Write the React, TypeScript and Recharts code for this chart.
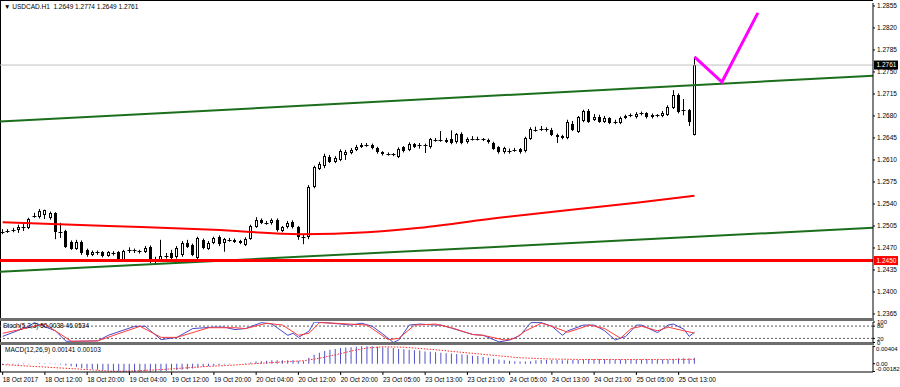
import React from 'react';
import { ComposedChart, Bar, Line, XAxis, YAxis, ReferenceLine } from 'recharts';

// H1 candles, 18 Oct 04:00 .. 25 Oct 16:00
const OPEN = [
  1.2495, 1.2496, 1.2497, 1.2499, 1.2503, 1.2502, 1.2519, 1.2519, 1.2522, 1.2518,
  1.2525, 1.2496, 1.2497, 1.248, 1.2469, 1.248, 1.2467, 1.2459, 1.2463, 1.2464,
  1.2458, 1.2462, 1.2463, 1.245, 1.2466, 1.2466, 1.2465, 1.2464, 1.2472, 1.2448,
  1.2451, 1.2456, 1.2462, 1.2456, 1.2459, 1.2478, 1.2475, 1.2454, 1.2483, 1.2469,
  1.2478, 1.2488, 1.2478, 1.2482, 1.2483, 1.2481, 1.2475, 1.2485, 1.2504, 1.2515,
  1.251, 1.2509, 1.2514, 1.2497, 1.2503, 1.2511, 1.2503, 1.2487, 1.2488, 1.2567,
  1.2596, 1.26, 1.2615, 1.2607, 1.261, 1.2618, 1.2621, 1.2626, 1.2631, 1.2634,
  1.2634, 1.2629, 1.2622, 1.2619, 1.2619, 1.2615, 1.263, 1.2626, 1.2635, 1.2633,
  1.2634, 1.263, 1.2642, 1.2641, 1.2639, 1.2643, 1.2638, 1.2651, 1.2638, 1.2643,
  1.2644, 1.2643, 1.2642, 1.2637, 1.263, 1.2622, 1.2624, 1.2625, 1.2627, 1.2625,
  1.2644, 1.2658, 1.2658, 1.2659, 1.2658, 1.265, 1.2648, 1.2645, 1.2668, 1.2655,
  1.2672, 1.2688, 1.2674, 1.2679, 1.2671, 1.2676, 1.267, 1.2669, 1.2677, 1.268,
  1.2678, 1.2683, 1.2684, 1.2678, 1.2681, 1.268, 1.2682, 1.2693, 1.2714, 1.2689,
  1.2689, 1.2649,
];
const HIGH = [
  1.25, 1.25, 1.2502, 1.2507, 1.2508, 1.2518, 1.2526, 1.2532, 1.2531, 1.2528,
  1.2527, 1.251, 1.2499, 1.2482, 1.2483, 1.2482, 1.2469, 1.2466, 1.2466, 1.2465,
  1.2465, 1.2465, 1.2465, 1.2467, 1.2471, 1.2469, 1.2467, 1.2473, 1.2474, 1.2456,
  1.2483, 1.2462, 1.2467, 1.2473, 1.2481, 1.2483, 1.2477, 1.2488, 1.2485, 1.2481,
  1.2488, 1.249, 1.2486, 1.2486, 1.2485, 1.2483, 1.2487, 1.2507, 1.2519, 1.2517,
  1.2513, 1.2517, 1.2517, 1.2505, 1.2513, 1.2514, 1.2505, 1.2491, 1.257, 1.2601,
  1.2607, 1.262, 1.2618, 1.2616, 1.2627, 1.2626, 1.2629, 1.2634, 1.2637, 1.2637,
  1.2636, 1.2631, 1.2624, 1.2622, 1.2621, 1.263, 1.2632, 1.2638, 1.2637, 1.2637,
  1.2636, 1.2645, 1.2645, 1.2656, 1.2645, 1.2657, 1.2653, 1.2654, 1.2646, 1.2648,
  1.2647, 1.2645, 1.2644, 1.2639, 1.2632, 1.2631, 1.2628, 1.2629, 1.2629, 1.2647,
  1.2662, 1.2663, 1.2664, 1.2662, 1.2661, 1.2652, 1.265, 1.2674, 1.2672, 1.268,
  1.269, 1.2691, 1.2683, 1.2682, 1.268, 1.2678, 1.2674, 1.2679, 1.2682, 1.2684,
  1.2686, 1.2687, 1.2686, 1.2684, 1.2683, 1.2688, 1.2697, 1.2721, 1.2716, 1.2707,
  1.2691, 1.2774,
];
const LOW = [
  1.2492, 1.2494, 1.2495, 1.2494, 1.2497, 1.25, 1.2518, 1.2517, 1.2516, 1.2515,
  1.2484, 1.2486, 1.247, 1.2467, 1.2467, 1.2459, 1.2456, 1.2457, 1.2459, 1.2455,
  1.2456, 1.2458, 1.2448, 1.2448, 1.2462, 1.2462, 1.2461, 1.2462, 1.2446, 1.2446,
  1.2449, 1.2453, 1.2451, 1.2453, 1.2456, 1.247, 1.2457, 1.2452, 1.2468, 1.2467,
  1.2476, 1.2473, 1.2464, 1.248, 1.2478, 1.2476, 1.2473, 1.2483, 1.2502, 1.2508,
  1.2507, 1.2507, 1.2496, 1.2495, 1.2501, 1.2501, 1.2483, 1.2476, 1.2484, 1.2565,
  1.2594, 1.2597, 1.2605, 1.2605, 1.2608, 1.261, 1.2619, 1.2624, 1.2629, 1.2631,
  1.2627, 1.262, 1.2617, 1.2617, 1.2616, 1.2613, 1.2622, 1.2624, 1.2629, 1.2628,
  1.2621, 1.2628, 1.2639, 1.2639, 1.2637, 1.2635, 1.2636, 1.2635, 1.2636, 1.2641,
  1.2641, 1.264, 1.2636, 1.2626, 1.262, 1.262, 1.262, 1.2623, 1.262, 1.2622,
  1.2642, 1.2655, 1.2656, 1.2655, 1.2648, 1.2637, 1.2643, 1.2643, 1.2656, 1.2653,
  1.267, 1.2669, 1.2672, 1.2669, 1.2669, 1.2667, 1.2667, 1.2667, 1.2675, 1.2678,
  1.2676, 1.2681, 1.2676, 1.2676, 1.2678, 1.2678, 1.268, 1.2691, 1.2684, 1.2681,
  1.2664, 1.2649,
];
const CLOSE = [
  1.2496, 1.2497, 1.2499, 1.2503, 1.2504, 1.2516, 1.2521, 1.2529, 1.253, 1.2525,
  1.2495, 1.2494, 1.2472, 1.2469, 1.248, 1.2462, 1.2459, 1.2464, 1.2462, 1.2457,
  1.2463, 1.2461, 1.2449, 1.2465, 1.2467, 1.2465, 1.2463, 1.247, 1.2448, 1.2453,
  1.2457, 1.2457, 1.2454, 1.247, 1.2478, 1.2472, 1.2459, 1.2486, 1.247, 1.2478,
  1.2486, 1.2476, 1.2484, 1.2483, 1.248, 1.2478, 1.2485, 1.2505, 1.2515, 1.251,
  1.2509, 1.2514, 1.2498, 1.2503, 1.251, 1.2503, 1.2487, 1.2488, 1.2567, 1.2599,
  1.2603, 1.2616, 1.2607, 1.2613, 1.2624, 1.2623, 1.2626, 1.2631, 1.2634, 1.2633,
  1.2629, 1.2622, 1.2619, 1.262, 1.2618, 1.2628, 1.2624, 1.2635, 1.2631, 1.2634,
  1.2633, 1.2643, 1.2641, 1.2642, 1.2642, 1.2637, 1.2651, 1.2637, 1.2643, 1.2644,
  1.2643, 1.2642, 1.2638, 1.2628, 1.2622, 1.2629, 1.2625, 1.2626, 1.2622, 1.2645,
  1.2659, 1.2657, 1.2659, 1.2658, 1.265, 1.2646, 1.2645, 1.267, 1.2658, 1.2678,
  1.2688, 1.2671, 1.2679, 1.2671, 1.2677, 1.2669, 1.2671, 1.2677, 1.268, 1.2681,
  1.2683, 1.2684, 1.2678, 1.2681, 1.268, 1.2685, 1.2694, 1.2713, 1.2686, 1.269,
  1.267, 1.2761,
];

// moving average (red curve), read at a few bars
const MA_IDX = [0, 20, 40, 56.5, 69, 79, 94, 109, 120, 131];
const MA_VAL = [1.2511, 1.2505, 1.2499, 1.2492, 1.2495, 1.2502, 1.2518, 1.2532, 1.2542, 1.2553];

// drawn objects
const UPPER_CHANNEL = [1.2671, 1.2744];
const LOWER_CHANNEL = [1.2432, 1.2502];
const SUPPORT = 1.245;
const LAST_PRICE = 1.2761;
const PATH_IDX = [131, 136.2, 143];
const PATH_VAL = [1.2774, 1.2734, 1.2844];

const PRICE_TICKS = [
  1.2365, 1.24, 1.2435, 1.247, 1.2505, 1.254, 1.2575, 1.261, 1.2645, 1.268, 1.2715, 1.275,
  1.2785, 1.282, 1.2855,
];

// stochastic %K and %D
const K_IDX = [
  0, 5, 6, 10, 12, 14, 18, 20, 25, 27, 30, 33, 36, 40, 42, 44, 46, 49, 51, 54,
  55, 56, 58, 59, 61, 64, 66, 68, 70, 72, 74, 75, 77, 79, 82, 83, 85, 89, 91, 94,
  96, 98, 100, 102, 104, 106, 107, 110, 112, 114, 116, 118, 120, 121, 124, 126, 127, 129, 130, 131,
];
const K_VAL = [
  30, 79, 97, 57, 6, 6, 8, 35, 79, 79, 14, 25, 68, 75, 75, 63, 68, 97, 90, 35,
  45, 25, 55, 100, 97, 90, 85, 94, 79, 41, 0, 12, 85, 90, 85, 85, 70, 39, 35, 3,
  12, 35, 97, 97, 79, 35, 57, 85, 85, 57, 12, 30, 85, 85, 48, 85, 90, 65, 30, 50,
];
const D_IDX = [
  0, 8, 13, 18, 26, 30, 33, 39, 44, 46, 50, 53, 56, 58, 60, 63, 69, 73, 75, 78,
  82, 85, 89, 91, 95, 97, 99, 102, 104, 107, 110, 111, 114, 117, 119, 121, 124, 126, 129, 131,
];
const D_VAL = [
  45, 90, 6, 8, 79, 25, 25, 72, 72, 68, 94, 85, 35, 45, 97, 94, 85, 14, 20, 85,
  90, 72, 39, 35, 12, 20, 57, 94, 79, 50, 75, 85, 68, 21, 68, 79, 57, 75, 57, 46,
];
const STOCH_TICKS = [0, 20, 80, 100];

// MACD main (histogram) per bar, signal read at a few bars
const MACD = [
  -0.0003, -0.0002, -0.0002, -0.0002, -0.0001, -0.0001, 0, 0.0001, 0.0001, 0.0001, -0.0001, -0.0002,
  -0.0004, -0.0006, -0.0008, -0.001, -0.0012, -0.0013, -0.0014, -0.0015, -0.0016,
  -0.0017, -0.0018, -0.0019, -0.0019, -0.0019, -0.0019, -0.0018, -0.0019, -0.0019, -0.0018,
  -0.0017, -0.0016, -0.0015, -0.0014, -0.0013, -0.0011, -0.0009, -0.0007, -0.0006, -0.0005,
  -0.0003, -0.0002, -0.0001, 0, 0,
  0.0001, 0.0003, 0.0005, 0.0006, 0.0007, 0.0008, 0.0008, 0.0008, 0.0008, 0.0008, 0.0007, 0.0006,
  0.0014, 0.0021, 0.0026, 0.003, 0.0033, 0.0035, 0.0037, 0.0038, 0.0039, 0.004, 0.0041, 0.0041, 0.0041,
  0.004, 0.0039, 0.0038, 0.0037, 0.0035, 0.0034, 0.0033, 0.0032, 0.0031, 0.0029, 0.0028, 0.0027,
  0.0026, 0.0025, 0.0024, 0.0023, 0.0022, 0.0021, 0.0019, 0.0018, 0.0016, 0.0014, 0.0012, 0.001,
  0.0008, 0.0007, 0.0006, 0.0005, 0.0005,
  0.0006, 0.0008, 0.0009, 0.0009, 0.0009, 0.0009, 0.0008, 0.0008, 0.0009, 0.0009, 0.001, 0.0011,
  0.0011, 0.0011, 0.0011, 0.001, 0.001, 0.001, 0.001, 0.001, 0.001, 0.001, 0.0011, 0.001, 0.001,
  0.001, 0.001, 0.0011, 0.0013, 0.0013, 0.0013, 0.00141,
];
const SIG_IDX = [0, 15, 21, 25, 31, 38, 44, 50, 57, 60, 63, 66, 69, 72, 76, 79, 82, 86, 92, 98, 104, 110, 120, 131];
const SIG_VAL = [
  -0.0002, -0.0013, -0.0018, -0.0017, -0.0013, -0.0007, -0.0003, 0.0002, 0.0007, 0.0013, 0.0021, 0.003,
  0.0037, 0.004, 0.0039, 0.0036, 0.0033, 0.0028, 0.0021, 0.0014, 0.0011, 0.001, 0.001, 0.00103,
];
const MACD_TICKS = [-0.00182, 0, 0.00404];

const TIME_IDX = [0, 8, 16, 24, 32, 40, 48, 56, 64, 72, 80, 88, 96, 104, 112, 120, 128];
const TIME_LABELS = [
  '18 Oct 2017', '18 Oct 12:00', '18 Oct 20:00', '19 Oct 04:00', '19 Oct 12:00', '19 Oct 20:00',
  '20 Oct 04:00', '20 Oct 12:00', '20 Oct 20:00', '23 Oct 05:00', '23 Oct 13:00', '23 Oct 21:00',
  '24 Oct 05:00', '24 Oct 13:00', '24 Oct 21:00', '25 Oct 05:00', '25 Oct 13:00',
];

const X_DOMAIN: [number, number] = [-0.5, 164.8];
const FONT = "'Liberation Sans', Arial, sans-serif";
const AXIS_W = 27;

const candles = OPEN.map((o, i) => ({ i, open: o, high: HIGH[i], low: LOW[i], close: CLOSE[i] }));
const maData = MA_IDX.map((i, k) => ({ i, v: MA_VAL[k] }));
const pathData = PATH_IDX.map((i, k) => ({ i, v: PATH_VAL[k] }));
const kData = K_IDX.map((i, k) => ({ i, v: K_VAL[k] }));
const dData = D_IDX.map((i, k) => ({ i, v: D_VAL[k] }));
const macdData = MACD.map((v, i) => ({ i, macd: v }));
const sigData = SIG_IDX.map((i, k) => ({ i, v: SIG_VAL[k] }));

function Candle(props: any) {
  const { x, y, width, height, payload } = props;
  if (!payload || height == null) return null;
  const span = payload.high - payload.low;
  const k = span > 0 ? height / span : 0;
  const at = (v: number) => y + (payload.high - v) * k;
  const cx = Math.floor(x + width / 2) + 0.5;
  const top = Math.round(at(Math.max(payload.open, payload.close)));
  const bot = Math.round(at(Math.min(payload.open, payload.close)));
  const bull = payload.close >= payload.open;
  return (
    <g>
      <line x1={cx} x2={cx} y1={y} y2={y + height} stroke="#000" strokeWidth={1} />
      {bot - top >= 2 ? (
        <rect x={cx - 1} y={top + 0.5} width={2} height={bot - top - 1} fill={bull ? '#fff' : '#000'} stroke="#000" strokeWidth={1} />
      ) : (
        <line x1={cx - 2} x2={cx + 2} y1={top + 0.5} y2={top + 0.5} stroke="#000" strokeWidth={1} />
      )}
    </g>
  );
}

function priceTag(text: string, bg: string) {
  return (p: any) => {
    const vb = p.viewBox || {};
    const x = vb.x + vb.width + 1;
    return (
      <g>
        <rect x={x} y={vb.y - 4.5} width={24} height={9} fill={bg} />
        <text x={x + 2.5} y={vb.y + 2.3} fontSize={6.5} fontFamily={FONT} fill="#fff">{text}</text>
      </g>
    );
  };
}

// plain right-axis label, left aligned
function axisTick(fmt: (v: number) => string, size: number, shift?: (v: number) => number) {
  return (p: any) => {
    const v = p.payload.value;
    return (
      <text x={p.x} y={p.y + (shift ? shift(v) : 0)} dy="0.35em" fontSize={size} fontFamily={FONT} fill="#000" textAnchor="start">
        {fmt(v)}
      </text>
    );
  };
}

function TimeTick(props: any) {
  const { x, y, payload } = props;
  const label = TIME_LABELS[TIME_IDX.indexOf(payload.value)];
  return (
    <text x={x} y={y + 5} fontSize={6.5} fontFamily={FONT} fill="#000" textAnchor="start">{label}</text>
  );
}

const titleStyle: React.CSSProperties = {
  position: 'absolute',
  fontSize: 6.5,
  lineHeight: '8px',
  color: '#000',
  whiteSpace: 'pre',
};

export default function App() {
  return (
    <div style={{ position: 'absolute', left: 0, top: 0, width: 900, height: 387, background: '#fff', overflow: 'hidden', fontFamily: FONT }}>
      {/* frame and panel separators */}
      <div style={{ position: 'absolute', left: 0, top: 0, width: 873, height: 372, borderLeft: '1px solid #000', borderTop: '1px solid #000', boxSizing: 'border-box' }} />
      <div style={{ position: 'absolute', left: 0, top: 318, width: 874, height: 3, background: '#6e6e6e' }} />
      <div style={{ position: 'absolute', left: 0, top: 342, width: 874, height: 3, background: '#6e6e6e' }} />

      <div style={{ position: 'absolute', left: 0, top: 0 }}>
        <ComposedChart width={900} height={318} data={candles} margin={{ top: 3, right: 0, bottom: 0, left: 0 }}>
          <XAxis dataKey="i" type="number" domain={X_DOMAIN} hide allowDataOverflow />
          <YAxis
            orientation="right"
            width={AXIS_W}
            domain={[1.23586, 1.28597]}
            ticks={PRICE_TICKS}
            tick={axisTick((v) => v.toFixed(4), 6.5)}
            tickSize={2}
            tickMargin={2}
            axisLine={{ stroke: '#000' }}
            tickLine={{ stroke: '#000' }}
            allowDataOverflow
            interval={0}
          />
          <ReferenceLine y={LAST_PRICE} stroke="#c0c0c0" strokeWidth={1} label={priceTag('1.2761', '#000')} />
          <ReferenceLine
            segment={[{ x: X_DOMAIN[0], y: UPPER_CHANNEL[0] }, { x: X_DOMAIN[1], y: UPPER_CHANNEL[1] }]}
            stroke="#1b6e1b"
            strokeWidth={2}
          />
          <ReferenceLine
            segment={[{ x: X_DOMAIN[0], y: LOWER_CHANNEL[0] }, { x: X_DOMAIN[1], y: LOWER_CHANNEL[1] }]}
            stroke="#1b6e1b"
            strokeWidth={2}
          />
          <ReferenceLine y={SUPPORT} stroke="#ff0000" strokeWidth={3} label={priceTag('1.2450', '#ff0000')} />
          <Line data={maData} dataKey="v" type="monotone" stroke="#ff0000" strokeWidth={2} dot={false} isAnimationActive={false} />
          <Bar dataKey={(d: any) => [d.low, d.high]} barSize={3} shape={<Candle />} isAnimationActive={false} />
          <Line data={pathData} dataKey="v" type="linear" stroke="#ff00ff" strokeWidth={3} dot={false} isAnimationActive={false} />
        </ComposedChart>
      </div>
      <div style={{ ...titleStyle, left: 4, top: 3 }}>{'\u25BC USDCAD.H1  1.2649 1.2774 1.2649 1.2761'}</div>

      {/* stochastic: taller svg so the edge labels are not clipped */}
      <div style={{ position: 'absolute', left: 0, top: 313 }}>
        <ComposedChart width={900} height={36} margin={{ top: 9, right: 0, bottom: 6.5, left: 0 }}>
          <XAxis dataKey="i" type="number" domain={X_DOMAIN} hide allowDataOverflow />
          <YAxis
            orientation="right"
            width={AXIS_W}
            domain={[0, 100]}
            ticks={STOCH_TICKS}
            tick={axisTick((v) => String(v), 6)}
            tickSize={2}
            tickMargin={2}
            axisLine={{ stroke: '#000' }}
            tickLine={{ stroke: '#000' }}
            interval={0}
            allowDataOverflow
          />
          <ReferenceLine y={80} stroke="#606060" strokeDasharray="2 2" />
          <ReferenceLine y={20} stroke="#606060" strokeDasharray="2 2" />
          <Line data={kData} dataKey="v" type="linear" stroke="#4848c8" strokeWidth={1} dot={false} isAnimationActive={false} />
          <Line data={dData} dataKey="v" type="linear" stroke="#ff3c3c" strokeWidth={1} dot={false} isAnimationActive={false} />
        </ComposedChart>
      </div>
      <div style={{ ...titleStyle, left: 3, top: 322 }}>Stoch(5,3,3) 50.0038 46.0534</div>

      <div style={{ position: 'absolute', left: 0, top: 337 }}>
        <ComposedChart width={900} height={50} data={macdData} margin={{ top: 8.5, right: 0, bottom: 0, left: 0 }}>
          <XAxis
            dataKey="i"
            type="number"
            domain={X_DOMAIN}
            ticks={TIME_IDX}
            interval={0}
            tick={<TimeTick />}
            height={15}
            tickSize={3}
            axisLine={{ stroke: '#000' }}
            tickLine={{ stroke: '#000' }}
            allowDataOverflow
          />
          <YAxis
            orientation="right"
            width={AXIS_W}
            domain={[-0.00195, 0.0043]}
            ticks={MACD_TICKS}
            tick={axisTick((v) => (v === 0 ? '0.00' : v.toFixed(5)), 6, (v) => (v < 0 ? -3 : v > 0 ? 2 : 0))}
            tickSize={2}
            tickMargin={1}
            axisLine={{ stroke: '#000' }}
            tickLine={{ stroke: '#000' }}
            interval={0}
            allowDataOverflow
          />
          <Bar dataKey="macd" barSize={1} fill="#5050c8" isAnimationActive={false} />
          <Line data={sigData} dataKey="v" type="linear" stroke="#ff2a2a" strokeWidth={1} strokeDasharray="1.5 1.5" dot={false} isAnimationActive={false} />
        </ComposedChart>
      </div>
      <div style={{ ...titleStyle, left: 5, top: 346 }}>MACD(12,26,9) 0.00141 0.00103</div>
    </div>
  );
}
